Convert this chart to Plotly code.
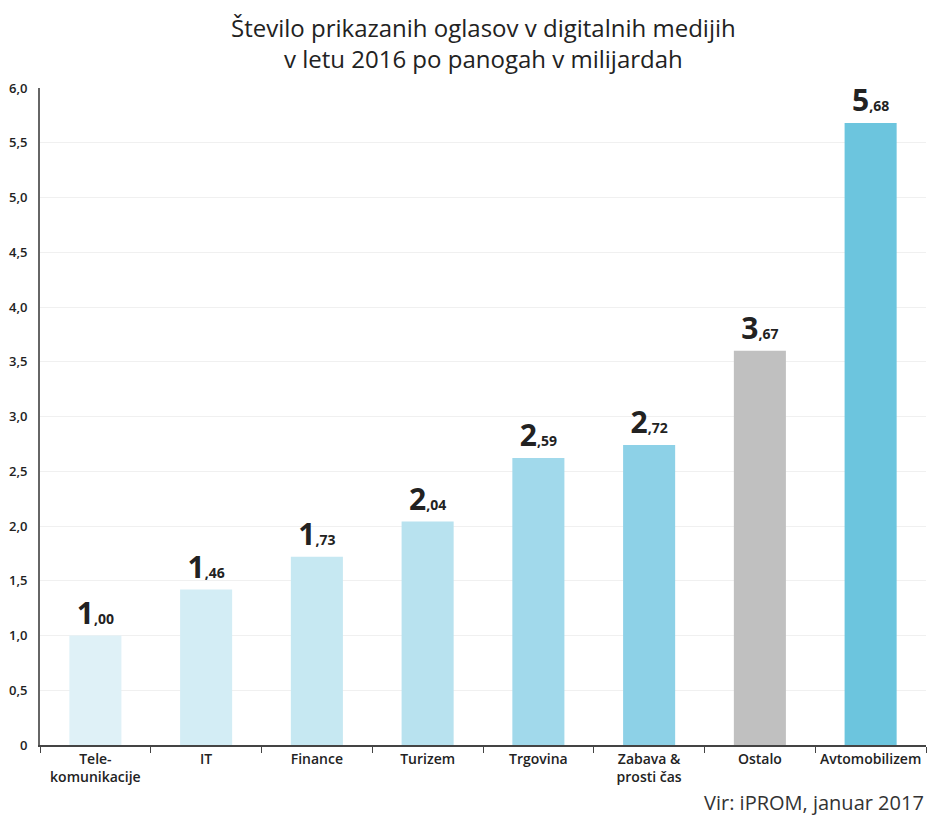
import plotly.graph_objects as go

# categories and values
categories = ["Tele-<br>komunikacije", "IT", "Finance", "Turizem", "Trgovina",
              "Zabava &<br>prosti čas", "Ostalo", "Avtomobilizem"]
bar_heights = [1.00, 1.42, 1.72, 2.04, 2.62, 2.74, 3.60, 5.68]
label_whole = ["1", "1", "1", "2", "2", "2", "3", "5"]
label_frac = ["00", "46", "73", "04", "59", "72", "67", "68"]
bar_colors = ["#dff1f7", "#d3edf5", "#c6e8f2", "#b8e2ef", "#a1d9eb",
              "#8dd1e7", "#c0c0c0", "#6cc5de"]
y_ticks = [0, 0.5, 1, 1.5, 2, 2.5, 3, 3.5, 4, 4.5, 5, 5.5, 6]
y_ticktext = ["0", "0,5", "1,0", "1,5", "2,0", "2,5", "3,0", "3,5",
              "4,0", "4,5", "5,0", "5,5", "6,0"]

labels = [f"<b><span style='font-size:30px'>{w}</span>,{f}</b>"
          for w, f in zip(label_whole, label_frac)]

fig = go.Figure()
fig.add_trace(go.Bar(
    x=categories, y=bar_heights,
    marker=dict(color=bar_colors, line=dict(width=0)),
    width=0.47,
    text=labels, textposition="outside",
    textfont=dict(family="Open Sans", size=14, color="#222"),
    cliponaxis=False,
    hoverinfo="skip",
))

# page body has an 8px margin, so the figure is a bit smaller than the window
fig.update_layout(
    width=930, height=817,
    paper_bgcolor="white", plot_bgcolor="white",
    margin=dict(l=32, r=12, t=80, b=80),
    showlegend=False,
    font=dict(family="Open Sans", color="#222"),
    xaxis=dict(
        type="category", tickson="boundaries", ticks="outside", ticklen=6,
        tickcolor="#444", showline=True, linecolor="#444", linewidth=2,
        tickfont=dict(family="Open Sans", size=14, color="#222", weight=600),
        showgrid=False, automargin=False,
    ),
    yaxis=dict(
        range=[0, 6.0], tickvals=y_ticks, ticktext=y_ticktext,
        showline=True, linecolor="#666", linewidth=2,
        gridcolor="#f0f0f0", gridwidth=1, zeroline=False,
        tickfont=dict(family="Open Sans", size=13, color="#222", weight=600),
        ticks="", ticklabelstandoff=8, automargin=False,
    ),
    annotations=[
        dict(
            text="Število prikazanih oglasov v digitalnih medijih<br>v letu 2016 po panogah v milijardah",
            xref="paper", yref="paper", x=0.5, y=1.121,
            xanchor="center", yanchor="top", showarrow=False,
            font=dict(family="Open Sans", size=24, color="#222"),
        ),
        dict(
            text="Vir: iPROM, januar 2017", xref="paper", yref="paper",
            x=1.0, y=-0.088, xanchor="right", yanchor="middle", showarrow=False,
            font=dict(family="Open Sans", size=20, color="#333"),
        ),
    ],
)

fig.write_html("out.html")
